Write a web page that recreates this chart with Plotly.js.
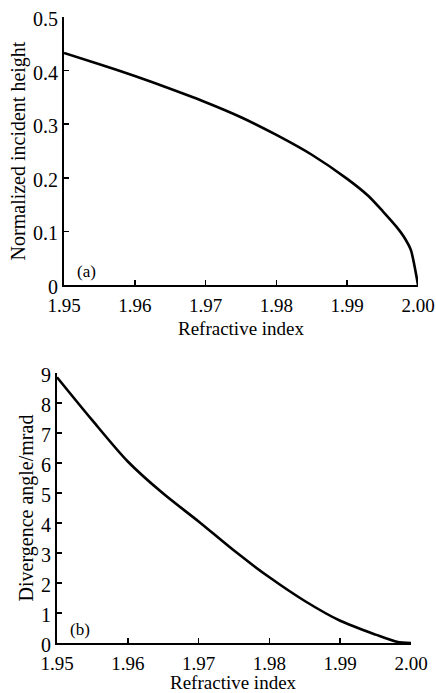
<!DOCTYPE html>
<html>
<head>
<meta charset="utf-8">
<script src="https://cdn.plot.ly/plotly-3.0.1.min.js"></script>
<style>html,body{margin:0;padding:0;background:#fff;}#chart{width:436px;height:693px;}</style>
</head>
<body>
<div id="chart"></div>
<script>
// Panel (a): normalized incident height vs refractive index
const indexA = [1.950, 1.955, 1.960, 1.965, 1.970, 1.975, 1.980, 1.985, 1.990, 1.993, 1.995, 1.997, 1.998, 1.999, 2.000];
const heightA = [0.433, 0.412, 0.390, 0.366, 0.341, 0.313, 0.280, 0.243, 0.198, 0.166, 0.138, 0.108, 0.090, 0.065, 0.000];

// Panel (b): divergence angle vs refractive index
const indexB = [1.950, 1.955, 1.960, 1.965, 1.970, 1.975, 1.980, 1.985, 1.990, 1.995, 1.998, 2.000];
const angleB = [8.86, 7.42, 6.05, 4.98, 4.05, 3.08, 2.19, 1.40, 0.74, 0.28, 0.04, 0.00];

const xTickVals = [1.95, 1.96, 1.97, 1.98, 1.99, 2.00];
const xTickText = ["1.95", "1.96", "1.97", "1.98", "1.99", "2.00"];
const yTickValsA = [0, 0.1, 0.2, 0.3, 0.4, 0.5];
const yTickTextA = ["0", "0.1", "0.2", "0.3", "0.4", "0.5"];
const yTickValsB = [0, 1, 2, 3, 4, 5, 6, 7, 8, 9];
const yTickTextB = ["0", "1", "2", "3", "4", "5", "6", "7", "8", "9"];
const xTitle = 'Refractive index';

const FONT = "Liberation Serif, Times New Roman, serif";
const W = 436, H = 693;

const traces = [
  {x: indexA, y: heightA, xaxis: 'x', yaxis: 'y', mode: 'lines', line: {color: '#000', width: 2.6, shape: 'spline', smoothing: 0.6}, hoverinfo: 'skip'},
  {x: indexB, y: angleB, xaxis: 'x2', yaxis: 'y2', mode: 'lines', line: {color: '#000', width: 2.6, shape: 'spline', smoothing: 0.8}, hoverinfo: 'skip'}
];

function xAx(domain, anchor, title) {
  const ax = {
    domain: domain, anchor: anchor, range: [1.95, 2.0],
    tickvals: xTickVals, ticktext: xTickText,
    ticks: 'inside', ticklen: 5, tickwidth: 1.5, tickcolor: '#000',
    showline: true, linecolor: '#000', linewidth: 2, mirror: false,
    showgrid: false, zeroline: false, automargin: false,
    ticklabelstandoff: 2,
    tickfont: {family: FONT, size: 19, color: '#000'}
  };
  if (title) ax.title = {text: title, font: {family: FONT, size: 19, color: '#000'}, standoff: 7};
  return ax;
}
function yAx(domain, anchor, range, vals, text, title) {
  return {
    domain: domain, anchor: anchor, range: range,
    tickvals: vals, ticktext: text,
    ticks: 'inside', ticklen: 5, tickwidth: 1.5, tickcolor: '#000',
    showline: true, linecolor: '#000', linewidth: 2, mirror: false,
    showgrid: false, zeroline: false, automargin: false,
    ticklabelshift: 2,
    tickfont: {family: FONT, size: 20, color: '#000'},
    title: {text: title, font: {family: FONT, size: 20, color: '#000'}, standoff: 2}
  };
}

const layout = {
  width: W, height: H,
  margin: {l: 0, r: 0, t: 0, b: 0},
  paper_bgcolor: '#fff', plot_bgcolor: '#fff',
  showlegend: false,
  xaxis: xAx([64 / W, 418 / W], 'y', xTitle),
  yaxis: yAx([1 - 285 / H, 1 - 17 / H], 'x', [0, 0.5], yTickValsA, yTickTextA, 'Normalized incident height'),
  xaxis2: xAx([57 / W, 411 / W], 'y2', null),
  yaxis2: yAx([1 - 643 / H, 1 - 373 / H], 'x2', [0, 9], yTickValsB, yTickTextB, 'Divergence angle/mrad'),
  annotations: [
    {xref: 'x domain', yref: 'y domain', x: 0.03, y: 0.0, xanchor: 'left', yanchor: 'bottom', yshift: 2,
     text: '(a)', showarrow: false, font: {family: FONT, size: 17, color: '#000'}},
    {xref: 'x2 domain', yref: 'y2 domain', x: 0.03, y: 0.0, xanchor: 'left', yanchor: 'bottom', yshift: 2,
     text: '(b)', showarrow: false, font: {family: FONT, size: 17, color: '#000'}},
    {xref: 'x2 domain', yref: 'paper', x: 0.5, y: 0, xanchor: 'center', yanchor: 'bottom', yshift: -2,
     text: xTitle, showarrow: false, font: {family: FONT, size: 19, color: '#000'}}
  ]
};

Plotly.newPlot('chart', traces, layout, {displayModeBar: false, staticPlot: true});
</script>
</body>
</html>
